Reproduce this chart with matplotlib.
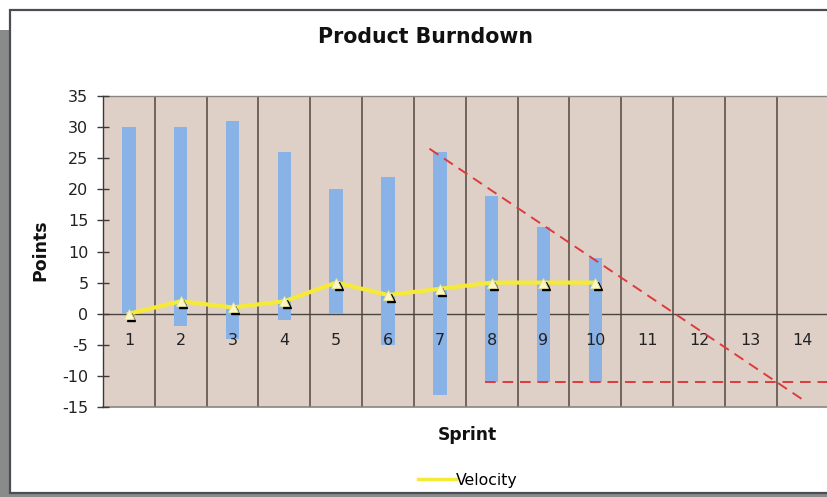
import numpy as np
import matplotlib
matplotlib.use("Agg")
import matplotlib.pyplot as plt
from matplotlib.patches import Rectangle
from matplotlib.transforms import offset_copy

plt.rcParams["axes.unicode_minus"] = False

sprints = list(range(1, 15))
done_sprints = [1, 2, 3, 4, 5, 6, 7, 8, 9, 10]
remaining = [30, 30, 31, 26, 20, 22, 26, 19, 14, 9]
added = [0, -2, -4, -1, 0, -5, -13, -11, -11, -11]
velocity = [0, 2, 1, 2, 5, 3, 4, 5, 5, 5]
trend_sprints = [7, 8, 9, 10]
yticks = [-15, -10, -5, 0, 5, 10, 15, 20, 25, 30, 35]

W, H = 827, 497
fig = plt.figure(figsize=(W / 100, H / 100), dpi=100)
fig.patch.set_facecolor("white")

# screenshot frame
fig.add_artist(Rectangle((0, 0), 1, (H - 30) / H, transform=fig.transFigure,
                         facecolor="#8a8a8a", edgecolor="none", zorder=-2))
fig.add_artist(Rectangle((10 / W, 4 / H), 1.1, (H - 14) / H, transform=fig.transFigure,
                         facecolor="white", edgecolor="#4a4d55", linewidth=1.6, zorder=-1))

ax = fig.add_axes([103 / W, 1 - 407 / H, (828.5 - 103) / W, 311 / H])
ax.set_zorder(3)
ax.set_axisbelow(False)
ax.set_facecolor("#dfd0c7")
ax.set_xlim(0.5, 14.5)
ax.set_ylim(-15, 35)

# vertical category separators
for b in np.arange(0.5, 15, 1.0):
    ax.axvline(b, color="#52483f", lw=1.1, zorder=1)
ax.axhline(0, color="#4a4440", lw=1.0, zorder=1)
ax.axhline(-15, color="#8a8580", lw=1.2, zorder=1, clip_on=False)
ax.axhline(35, color="#8a8580", lw=1.0, zorder=1, clip_on=False)

bar_color = "#89b2e6"
ax.bar(done_sprints, remaining, width=0.26, color=bar_color, zorder=2)
ax.bar(done_sprints, added, width=0.26, color=bar_color, zorder=2)

# trend lines
coef = np.polyfit(trend_sprints, remaining[6:10], 1)
xs = np.array([6.8, 14.05])
ax.plot(xs, np.polyval(coef, xs), color="#dd3b3b", lw=1.4, ls=(0, (5.5, 3.5)), zorder=3)
base = np.mean(added[7:10])
ax.plot([7.88, 14.6], [base, base], color="#dd3b3b", lw=1.4, ls=(0, (5.5, 3.5)), zorder=3)

# velocity
ax.plot(done_sprints, velocity, color="#f6ea38", lw=3, zorder=4, label="Velocity")
sh = offset_copy(ax.transData, fig=fig, x=2.5, y=-3, units="dots")
ax.plot(done_sprints, velocity, ls="none", marker="^", ms=5.5, color="black",
        transform=sh, zorder=4.5)
ax.plot(done_sprints, velocity, ls="none", marker="^", ms=6.5, color="#fbf7c8",
        markeredgecolor="#e8e090", markeredgewidth=0.6, zorder=5)

# axes styling
for s in ["top", "right", "bottom"]:
    ax.spines[s].set_visible(False)
ax.spines["left"].set_color("#3a3a3a")
ax.spines["left"].set_linewidth(1.0)
ax.set_yticks(yticks)
ax.tick_params(axis="y", direction="inout", length=9, width=1, color="#3a3a3a",
               labelsize=11.5, pad=6, labelcolor="#222222")
ax.set_xticks(sprints)
ax.set_xticklabels([str(s) for s in sprints])
ax.tick_params(axis="x", length=0, labelsize=11.5, labelcolor="#222222")
ax.spines["bottom"].set_position(("data", 0))
ax.tick_params(axis="x", pad=14)

fig.text(425 / W, 1 - 37 / H, "Product Burndown", ha="center", va="center",
         fontsize=14.8, fontweight="bold", color="#111111")
fig.text(40 / W, 1 - 250 / H, "Points", ha="center", va="center", rotation=90,
         fontsize=12.5, fontweight="bold", color="#111111")
fig.text(467 / W, 1 - 435 / H, "Sprint", ha="center", va="center",
         fontsize=12.3, fontweight="bold", color="#111111")

leg = fig.legend(loc="center", bbox_to_anchor=(468 / W, 1 - 480 / H), frameon=False,
                 fontsize=11.3, handlelength=2.4, handletextpad=0.0)
for line in leg.get_lines():
    line.set_linewidth(2.5)

fig.savefig("out.png", dpi=100)
